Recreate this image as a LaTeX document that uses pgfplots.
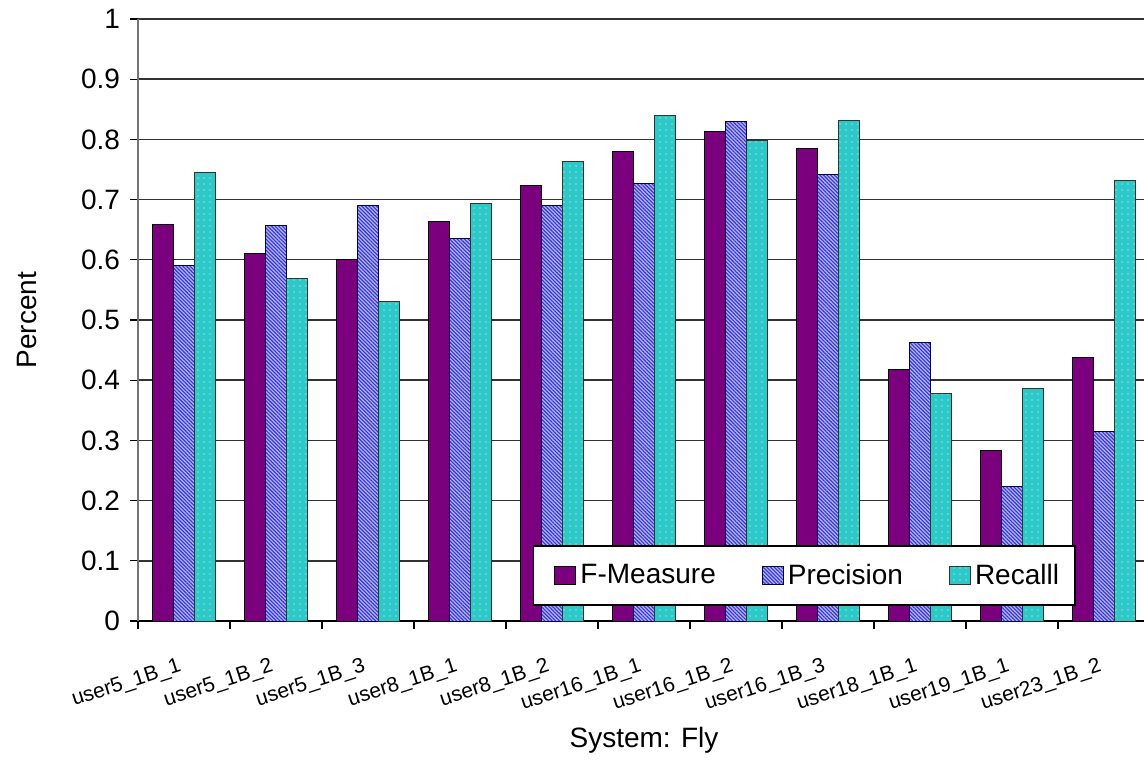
\documentclass[border=0pt]{standalone}
\usepackage{pgfplots}
\pgfplotsset{compat=1.18}
\usepackage{pgfplotstable}
\usetikzlibrary{patterns.meta}
\usepackage{fontspec}
\setmainfont{Liberation Sans}

\definecolor{fmeas}{RGB}{122,0,126}
\definecolor{precback}{RGB}{175,175,250}
\definecolor{precline}{RGB}{55,55,200}
\definecolor{recteal}{RGB}{45,200,200}

% F-Measure, Precision, Recall per system
\pgfplotstableread{
idx F     P     R
0   0.658 0.591 0.745
1   0.610 0.657 0.569
2   0.600 0.690 0.530
3   0.664 0.636 0.693
4   0.724 0.690 0.763
5   0.780 0.727 0.840
6   0.813 0.829 0.798
7   0.785 0.742 0.832
8   0.417 0.462 0.378
9   0.283 0.223 0.387
10  0.437 0.315 0.731
}\flydata

\begin{document}
\begin{tikzpicture}
\useasboundingbox (0,0) rectangle (572pt,380pt);
\begin{axis}[
  at={(69pt,69.5pt)}, anchor=south west,
  scale only axis, width=506pt, height=301pt,
  ybar=0pt, bar width=10.5pt,
  xmin=-0.5, xmax=10.5,
  ymin=0, ymax=1,
  axis x line*=bottom, axis y line*=left,
  x axis line style={black, line width=0.8pt},
  y axis line style={black!55, line width=0.8pt},
  ytick={0,0.1,0.2,0.3,0.4,0.5,0.6,0.7,0.8,0.9,1},
  yticklabels={0,0.1,0.2,0.3,0.4,0.5,0.6,0.7,0.8,0.9,1},
  xtick={-0.5,0.5,1.5,2.5,3.5,4.5,5.5,6.5,7.5,8.5,9.5,10.5},
  xticklabels={user5\_1B\_1,user5\_1B\_2,user5\_1B\_3,user8\_1B\_1,user8\_1B\_2,
    user16\_1B\_1,user16\_1B\_2,user16\_1B\_3,user18\_1B\_1,user19\_1B\_1,user23\_1B\_2,{}},
  tick align=outside, major tick length=4pt,
  tick style={black, line width=0.6pt},
  ymajorgrids, grid style={black!80, line width=0.7pt},
  yticklabel style={font=\fontsize{14}{16}\selectfont, xshift=-1.5pt},
  xticklabel style={font=\fontsize{10.5}{12.5}\selectfont, rotate=18, anchor=north east,
    xshift=18pt, yshift=-16pt},
  ylabel={Percent},
  ylabel style={at={(axis description cs:-0.11,0.5)}, anchor=center, rotate=0,
    font=\fontsize{14}{16}\selectfont},
  xlabel={System: Fly},
  xlabel style={at={(axis description cs:0.5,-0.198)}, anchor=center,
    font=\fontsize{14}{16}\selectfont},
  legend image code/.code={\path (0pt,0pt); \draw[#1] (4.5pt,-4.5pt) rectangle (15pt,4.5pt);},
  legend style={at={(axis description cs:0.39,0.025)}, anchor=south west,
    legend columns=3, draw=black, line width=0.8pt, fill=white,
    font=\fontsize{14}{16}\selectfont, inner xsep=6pt, inner ysep=7pt,
    /tikz/every even column/.append style={column sep=16.5pt}},
]
\addplot[fill=fmeas, draw=black, line width=0.5pt] table[x=idx, y=F] {\flydata};
\addplot[fill=precback, draw=black!70!blue, line width=0.5pt,
  postaction={pattern={Lines[angle=-45, distance=1.3pt, line width=0.55pt]}, pattern color=precline}]
  table[x=idx, y=P] {\flydata};
\addplot[fill=recteal, draw=black!80, line width=0.5pt,
  postaction={pattern={Dots[distance=3pt, radius=0.3pt]}, pattern color=white}]
  table[x=idx, y=R] {\flydata};
\legend{F-Measure, Precision, Recalll}
\end{axis}
\end{tikzpicture}
\end{document}
